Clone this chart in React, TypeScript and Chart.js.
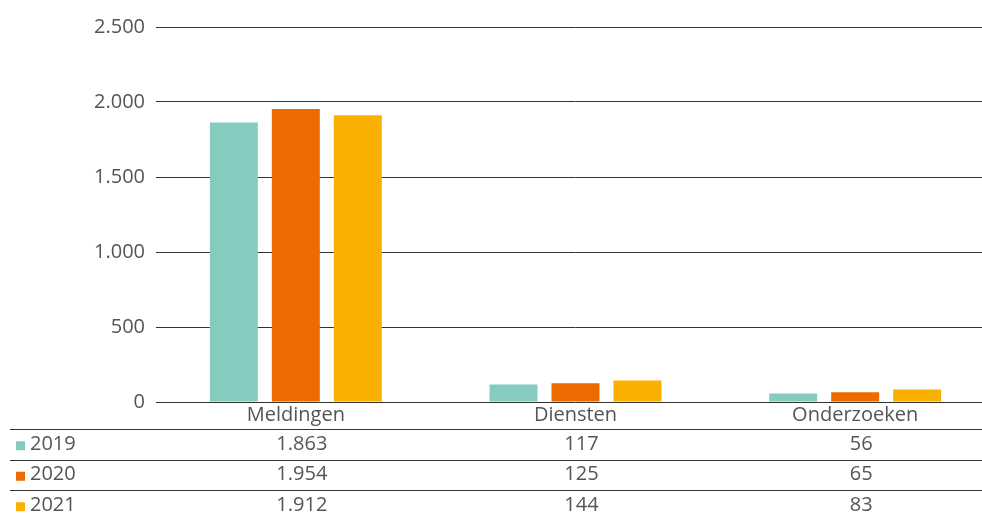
import React, { useEffect, useRef } from "react";
import { Chart, registerables } from "chart.js";

Chart.register(...registerables);

const categories = ["Meldingen", "Diensten", "Onderzoeken"];
const years = ["2019", "2020", "2021"];
const values2019 = [1863, 117, 56];
const values2020 = [1954, 125, 65];
const values2021 = [1912, 144, 83];
const colors = ["#86cbc0", "#ec6a00", "#f9b000"];
const yMax = 2500;
const yStep = 500;

const FONT = '"Open Sans", "Noto Sans", sans-serif';
const TEXT = "#555555";

const fmt = (v: number) => String(v).replace(/\B(?=(\d{3})+(?!\d))/g, ".");

const tablePlugin = {
  id: "dataTable",
  afterDraw(chart: any) {
    const { ctx, chartArea, scales } = chart;
    const x = scales.x;
    const rowH = 30.5;
    const top0 = chartArea.bottom + 27;
    ctx.save();
    ctx.font = `20px ${FONT}`;
    ctx.textBaseline = "middle";
    chart.data.datasets.forEach((ds: any, r: number) => {
      const lineY = Math.round(top0 + r * rowH) + 0.5;
      ctx.strokeStyle = "#333333";
      ctx.lineWidth = 1;
      ctx.beginPath();
      ctx.moveTo(10, lineY);
      ctx.lineTo(chart.width, lineY);
      ctx.stroke();
      const cy = top0 + r * rowH + rowH / 2;
      ctx.fillStyle = ds.backgroundColor;
      ctx.fillRect(16, cy - 3, 9, 9);
      ctx.fillStyle = TEXT;
      ctx.textAlign = "left";
      ctx.fillText(ds.label, 30, cy);
      ctx.textAlign = "center";
      ds.data.forEach((v: number, i: number) => {
        ctx.fillText(fmt(v), x.getPixelForValue(i) + 6, cy);
      });
    });
    ctx.restore();
  },
};

export default function App() {
  const ref = useRef<HTMLCanvasElement>(null);
  useEffect(() => {
    if (!ref.current) return;
    const chart = new Chart(ref.current, {
      type: "bar",
      data: {
        labels: categories,
        datasets: [
          { label: years[0], data: values2019, backgroundColor: colors[0] },
          { label: years[1], data: values2020, backgroundColor: colors[1] },
          { label: years[2], data: values2021, backgroundColor: colors[2] },
        ],
      },
      options: {
        animation: false,
        responsive: true,
        maintainAspectRatio: false,
        layout: { padding: { top: 27, right: 1, left: 0, bottom: 0 } },
        plugins: { legend: { display: false }, tooltip: { enabled: false } },
        datasets: { bar: { categoryPercentage: 0.665, barPercentage: 0.774 } },
        scales: {
          x: {
            grid: { display: false },
            border: { display: false },
            ticks: { color: TEXT, font: { family: FONT, size: 20 }, padding: -7, maxRotation: 0 },
            afterFit: (s: any) => { s.height = 114; },
          },
          y: {
            min: 0,
            max: yMax,
            border: { display: false },
            grid: { color: "#333333", lineWidth: 1, drawTicks: false },
            ticks: {
              stepSize: yStep,
              color: TEXT,
              font: { family: FONT, size: 20 },
              padding: 11,
              callback: (v: any) => fmt(Number(v)),
            },
            afterFit: (s: any) => { s.width = 156; },
          },
        },
      },
      plugins: [tablePlugin],
    });
    return () => chart.destroy();
  }, []);
  return (
    <div style={{ position: "absolute", left: 0, top: 0, width: 982, height: 516, overflow: "hidden" }}>
      <div style={{ position: "relative", width: 996, height: 516 }}>
        <canvas ref={ref} />
      </div>
    </div>
  );
}
